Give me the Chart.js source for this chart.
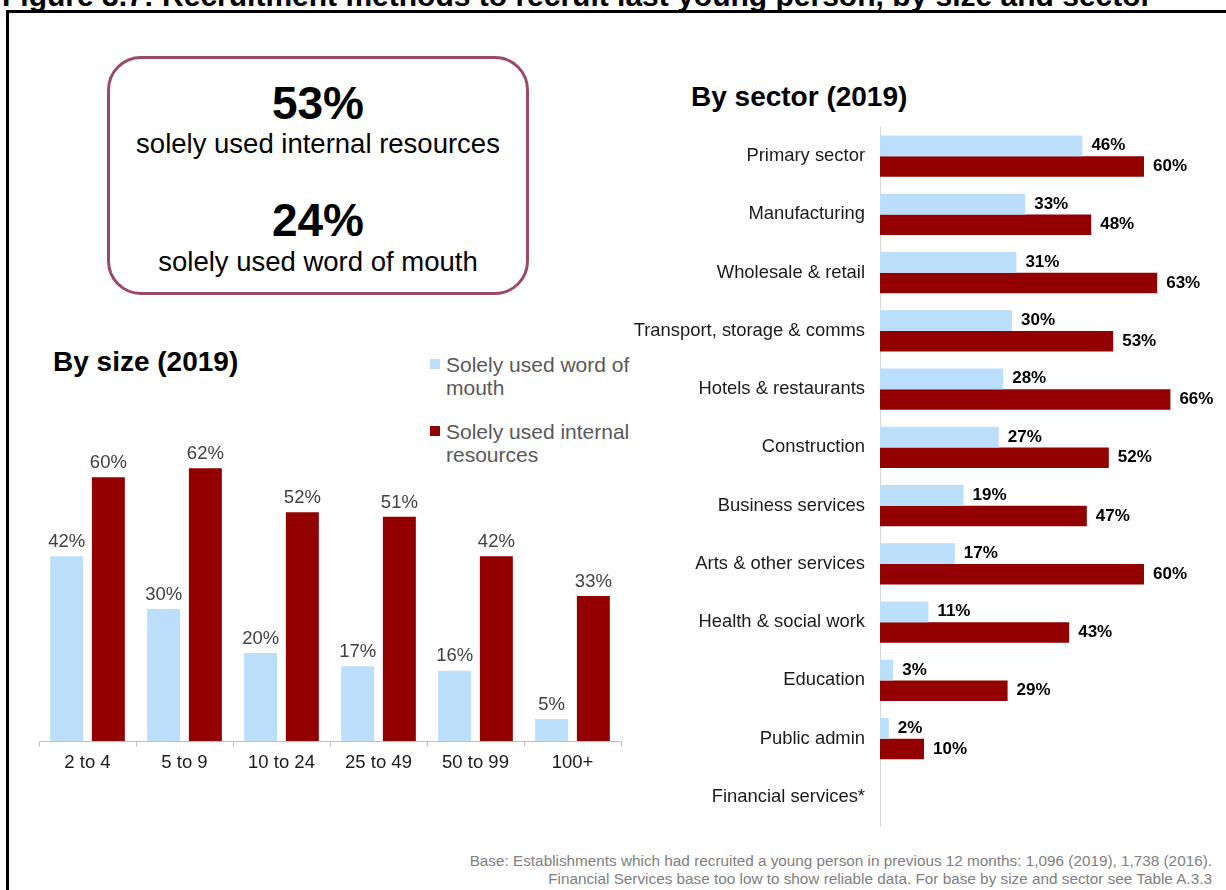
<!DOCTYPE html>
<html>
<head>
<meta charset="utf-8">
<script src="https://cdn.jsdelivr.net/npm/chart.js@4.4.1/dist/chart.umd.min.js"></script>
<style>
  body { margin: 0; width: 1226px; height: 890px; overflow: hidden; background: #fff; position: relative; font-family: "Liberation Sans", Arial, sans-serif; }
  .abs { position: absolute; }
  #title { left: 2px; top: -19px; font-size: 30px; line-height: 30px; font-weight: bold; white-space: nowrap; color: #000; }
  #frame { left: 6px; top: 10px; width: 1300px; height: 1000px; border-left: 3px solid #000; border-top: 3px solid #000; }
  #box { left: 107px; top: 56px; width: 416px; height: 233px; border: 3px solid #9a4a62; border-radius: 34px; color: #000; }
  #box div { position: absolute; left: 0; width: 100%; text-align: center; white-space: nowrap; }
  .big { font-size: 46px; font-weight: bold; line-height: 46px; }
  .sub { font-size: 27.5px; line-height: 28px; }
  .head { font-size: 28px; font-weight: bold; color: #000; white-space: nowrap; }
  .leg { font-size: 21px; line-height: 23px; color: #595959; white-space: nowrap; }
  .sw { position: absolute; left: 0; top: 6px; width: 10px; height: 10px; }
  #foot { right: 14px; top: 852px; font-size: 15.3px; line-height: 18px; color: #808080; text-align: right; white-space: nowrap; }
</style>
</head>
<body>
<div id="frame" class="abs"></div>
<div id="title" class="abs">Figure 3.7: Recruitment methods to recruit last young person, by size and sector</div>

<div id="box" class="abs">
  <div class="big" style="top:21px">53%</div>
  <div class="sub" style="top:71px">solely used internal resources</div>
  <div class="big" style="top:138px">24%</div>
  <div class="sub" style="top:189px">solely used word of mouth</div>
</div>

<div class="abs head" style="left:53px; top:346px">By size (2019)</div>
<div class="abs head" style="left:691px; top:81px">By sector (2019)</div>

<div class="abs leg" style="left:430px; top:353px; width:220px">
  <div class="sw" style="background:#bbdefb"></div>
  <div style="margin-left:16px">Solely used word of<br>mouth</div>
</div>
<div class="abs leg" style="left:430px; top:420px; width:220px">
  <div class="sw" style="background:#930000"></div>
  <div style="margin-left:16px">Solely used internal<br>resources</div>
</div>

<canvas id="sizeChart" class="abs" style="left:0; top:420px"></canvas>
<canvas id="sectorChart" class="abs" style="left:600px; top:120px"></canvas>

<div id="foot" class="abs">Base: Establishments which had recruited a young person in previous 12 months: 1,096 (2019), 1,738 (2016).<br>Financial Services base too low to show reliable data. For base by size and sector see Table A.3.3</div>

<script>
// Data
const sizeLabels = ['2 to 4', '5 to 9', '10 to 24', '25 to 49', '50 to 99', '100+'];
const sizeWordOfMouth = [42, 30, 20, 17, 16, 5];
const sizeInternal = [60, 62, 52, 51, 42, 33];

const sectorLabels = ['Primary sector', 'Manufacturing', 'Wholesale & retail', 'Transport, storage & comms',
  'Hotels & restaurants', 'Construction', 'Business services', 'Arts & other services',
  'Health & social work', 'Education', 'Public admin', 'Financial services*'];
const sectorWordOfMouth = [46, 33, 31, 30, 28, 27, 19, 17, 11, 3, 2, null];
const sectorInternal = [60, 48, 63, 53, 66, 52, 47, 60, 43, 29, 10, null];

const BLUE = '#bbdefb';
const RED = '#930000';
const FONT = '"Liberation Sans", Arial, sans-serif';

// Etiquetas de valor
const valueLabels = {
  id: 'valueLabels',
  afterDatasetsDraw(chart, args, opts) {
    const ctx = chart.ctx;
    ctx.save();
    ctx.font = opts.font;
    ctx.fillStyle = opts.color;
    chart.data.datasets.forEach((ds, i) => {
      chart.getDatasetMeta(i).data.forEach((bar, j) => {
        const v = ds.data[j];
        if (v === null || v === undefined) return;
        const txt = v + '%';
        if (opts.horizontal) {
          ctx.textAlign = 'left';
          ctx.textBaseline = 'middle';
          ctx.fillText(txt, bar.x + 9, bar.y);
        } else {
          ctx.textAlign = 'center';
          ctx.textBaseline = 'bottom';
          ctx.fillText(txt, bar.x, bar.y - 5);
        }
      });
    });
    ctx.restore();
  }
};

function createSizeChart() {
  const canvas = document.getElementById('sizeChart');
  canvas.width = 640; canvas.height = 370;
  new Chart(canvas, {
    type: 'bar',
    data: {
      labels: sizeLabels,
      datasets: [
        { label: 'Solely used word of mouth', data: sizeWordOfMouth, backgroundColor: BLUE, barPercentage: 0.79, categoryPercentage: 0.86 },
        { label: 'Solely used internal resources', data: sizeInternal, backgroundColor: RED, barPercentage: 0.79, categoryPercentage: 0.86 }
      ]
    },
    options: {
      responsive: false,
      animation: false,
      layout: { padding: { left: 39, right: 19, top: 0, bottom: 0 } },
      scales: {
        x: {
          grid: { offset: true, drawOnChartArea: false, tickLength: 6, color: '#bfbfbf' },
          border: { color: '#bfbfbf' },
          ticks: { color: '#1a1a1a', font: { family: FONT, size: 18.5 }, padding: 5 },
          afterFit: s => { s.height = 49; s.paddingLeft = 0; s.paddingRight = 0; }
        },
        y: { display: false, min: 0, max: 73 }
      },
      plugins: {
        legend: { display: false },
        tooltip: { enabled: false },
        valueLabels: { font: '18.5px ' + FONT, color: '#404040', horizontal: false }
      }
    },
    plugins: [valueLabels]
  });
}

function createSectorChart() {
  const canvas = document.getElementById('sectorChart');
  canvas.width = 626; canvas.height = 710;
  new Chart(canvas, {
    type: 'bar',
    data: {
      labels: sectorLabels,
      datasets: [
        { label: 'Solely used word of mouth', data: sectorWordOfMouth, backgroundColor: BLUE, barPercentage: 1, categoryPercentage: 0.71 },
        { label: 'Solely used internal resources', data: sectorInternal, backgroundColor: RED, barPercentage: 1, categoryPercentage: 0.71 }
      ]
    },
    options: {
      indexAxis: 'y',
      responsive: false,
      animation: false,
      layout: { padding: { left: 0, right: 16, top: 7, bottom: 4 } },
      scales: {
        x: { display: false, min: 0, max: 75 },
        y: {
          grid: { drawOnChartArea: false, drawTicks: false, color: '#d9d9d9' },
          border: { color: '#d9d9d9' },
          ticks: { color: '#1a1a1a', font: { family: FONT, size: 18.4 }, padding: 15 },
          afterFit: s => { s.width = 280; s.paddingTop = 0; s.paddingBottom = 0; }
        }
      },
      plugins: {
        legend: { display: false },
        tooltip: { enabled: false },
        valueLabels: { font: 'bold 17px ' + FONT, color: '#000', horizontal: true }
      }
    },
    plugins: [valueLabels]
  });
}

createSizeChart();
createSectorChart();
</script>
</body>
</html>
